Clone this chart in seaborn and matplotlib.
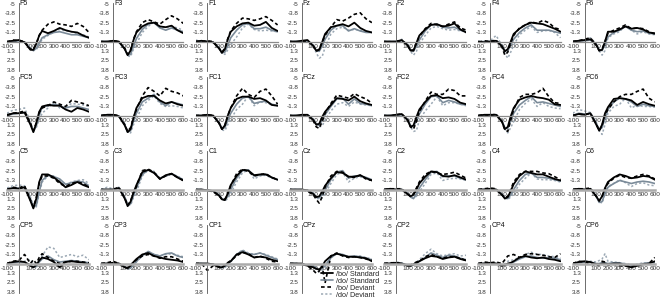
import matplotlib
matplotlib.use('Agg')
import matplotlib.pyplot as plt
from matplotlib.lines import Line2D
import seaborn as sns
import pandas as pd

# ── time axis (ms) and electrode grid ─────────────────────────────────────────
TIMES = [-100, -50, 0, 50, 100, 125, 150, 175, 200, 250, 300, 350, 400, 450, 500, 550, 600]

GRID = [
    ['F5', 'F3', 'F1', 'Fz', 'F2', 'F4', 'F6'],
    ['FC5', 'FC3', 'FC1', 'FCz', 'FC2', 'FC4', 'FC6'],
    ['C5', 'C3', 'C1', 'Cz', 'C2', 'C4', 'C6'],
    ['CP5', 'CP3', 'CP1', 'CPz', 'CP2', 'CP4', 'CP6'],
]

# ── amplitudes (uV) ──────────────────────────────────────────────────────────
BO_STD = {
    'F5':  [0.0, -0.1, -0.2, 0.1, 1.1, 1.1, 0.3, -0.8, -1.4, -1.1, -1.4, -1.8, -1.5, -1.3, -1.2, -0.8, -0.5],
    'F3':  [0.0, 0.0, -0.1, 0.0, 1.0, 1.8, 1.2, -0.2, -1.2, -2.0, -2.4, -2.5, -2.0, -1.9, -2.1, -1.5, -1.1],
    'F1':  [0.0, -0.1, 0.0, 0.1, 0.9, 1.5, 1.0, -0.3, -1.3, -2.0, -2.4, -2.5, -2.1, -2.2, -2.6, -1.8, -1.4],
    'Fz':  [0.0, 0.0, -0.1, -0.2, 0.6, 1.2, 1.1, 0.1, -1.0, -1.9, -2.1, -2.3, -2.0, -2.5, -1.8, -1.4, -1.2],
    'F2':  [0.0, 0.0, 0.0, -0.2, 0.5, 1.2, 1.2, 0.2, -0.8, -1.6, -2.2, -2.3, -2.0, -2.1, -2.4, -1.6, -1.2],
    'F4':  [0.0, 0.1, 0.0, -0.1, 0.6, 1.3, 1.0, 0.0, -1.0, -1.7, -2.2, -2.5, -2.4, -2.3, -2.0, -1.7, -1.3],
    'F6':  [0.0, -0.1, -0.2, -0.3, 0.4, 1.2, 1.1, 0.0, -1.3, -1.3, -1.6, -2.0, -1.7, -1.8, -1.6, -1.2, -1.1],
    'FC5': [0.0, -0.3, -0.3, -0.4, 1.2, 2.2, 1.0, -0.5, -1.2, -1.4, -1.3, -1.3, -0.8, -0.5, -1.0, -0.8, -0.5],
    'FC3': [0.0, -0.1, -0.1, 0.1, 1.3, 2.2, 1.8, 0.3, -1.0, -2.3, -2.6, -2.6, -2.0, -1.6, -1.8, -1.5, -1.3],
    'FC1': [0.0, 0.0, -0.1, 0.0, 1.0, 1.8, 1.3, 0.0, -1.0, -2.2, -2.5, -2.5, -2.2, -2.3, -2.0, -1.4, -1.3],
    'FCz': [0.0, 0.0, -0.1, -0.1, 0.6, 1.2, 1.1, 0.2, -0.5, -1.4, -2.3, -2.2, -2.0, -2.5, -1.9, -1.6, -1.4],
    'FC2': [0.0, 0.0, -0.1, -0.2, 0.6, 1.5, 1.3, 0.2, -0.8, -1.8, -2.6, -2.7, -2.3, -2.4, -2.2, -1.7, -1.5],
    'FC4': [0.0, -0.1, -0.1, -0.1, 0.8, 1.8, 1.5, 0.1, -1.0, -2.1, -2.4, -2.6, -2.4, -2.3, -2.1, -1.5, -1.4],
    'FC6': [0.0, -0.2, -0.1, -0.3, 1.2, 2.0, 1.2, -0.3, -1.1, -2.2, -2.3, -2.2, -2.0, -1.4, -1.8, -1.5, -1.3],
    'C5':  [0.0, -0.2, -0.1, -0.3, 1.5, 2.5, 1.2, -1.0, -2.0, -2.0, -1.6, -1.0, -0.3, -0.6, -1.0, -0.6, -0.3],
    'C3':  [0.0, 0.0, 0.0, -0.2, 1.2, 2.2, 1.6, 0.4, -0.6, -2.3, -2.6, -2.2, -1.4, -1.9, -2.1, -1.6, -1.2],
    'C1':  [0.0, 0.0, 0.1, 0.2, 0.8, 1.3, 1.4, 0.5, -0.6, -1.8, -2.6, -2.5, -1.9, -2.0, -2.0, -1.6, -1.3],
    'Cz':  [0.0, 0.0, 0.0, 0.1, 0.6, 1.0, 0.9, 0.3, -0.5, -1.5, -2.3, -2.2, -1.7, -1.7, -1.9, -1.5, -1.2],
    'C2':  [0.0, -0.1, 0.0, 0.0, 0.6, 0.9, 0.7, 0.0, -0.8, -1.7, -2.4, -2.3, -1.8, -1.7, -1.9, -1.6, -1.3],
    'C4':  [0.0, 0.0, -0.1, 0.0, 0.7, 1.2, 1.0, 0.2, -0.7, -1.8, -2.4, -2.2, -2.0, -2.0, -1.7, -1.4, -1.2],
    'C6':  [0.0, -0.1, 0.0, -0.1, 0.9, 1.5, 0.9, -0.2, -1.0, -1.6, -2.0, -1.8, -1.5, -1.6, -1.8, -1.7, -1.3],
    'CP5': [0.0, -0.2, -0.3, -0.2, 0.3, 0.5, 0.2, -0.4, -0.8, -0.6, -0.2, 0.5, -0.2, -0.3, -0.2, -0.1, 0.1],
    'CP3': [0.0, 0.0, -0.1, 0.0, 0.5, 0.6, 0.3, -0.2, -0.6, -1.2, -1.4, -1.0, -0.8, -0.6, -0.5, -0.4, -0.2],
    'CP1': [0.0, 0.0, 0.0, 0.1, 0.5, 0.5, 0.3, -0.1, -0.3, -1.2, -1.5, -1.2, -0.8, -0.9, -0.8, -0.5, -0.3],
    'CPz': [0.0, 0.0, 0.0, 0.3, 0.5, 0.7, 0.8, 0.4, -0.3, -1.0, -1.3, -1.1, -0.9, -0.9, -0.8, -0.7, -0.3],
    'CP2': [0.0, 0.0, -0.1, 0.0, 0.3, 0.3, 0.1, -0.1, -0.3, -0.7, -1.0, -0.9, -0.6, -0.8, -0.9, -0.6, -0.4],
    'CP4': [0.0, 0.0, -0.1, 0.0, 0.3, 0.2, 0.0, -0.1, -0.3, -0.8, -1.0, -0.8, -0.7, -0.8, -0.6, -0.5, -0.3],
    'CP6': [0.0, -0.2, -0.3, -0.2, 0.1, 0.1, 0.0, 0.0, 0.1, 0.0, 0.0, 0.3, 0.5, 0.3, 0.1, 0.0, -0.3],
}

DO_STD = {
    'F5':  [0.0, 0.0, -0.1, 0.1, 0.9, 1.2, 0.9, 0.2, -0.5, -0.9, -1.2, -1.3, -1.1, -0.9, -0.9, -0.7, -0.5],
    'F3':  [0.0, 0.0, 0.0, 0.1, 0.9, 1.8, 1.7, 0.6, -0.4, -1.6, -2.3, -2.5, -1.8, -1.5, -1.8, -1.5, -1.3],
    'F1':  [-0.1, 0.0, 0.0, 0.1, 0.8, 1.5, 1.4, 0.5, -0.5, -1.5, -2.2, -2.4, -1.7, -1.7, -1.9, -1.5, -1.3],
    'Fz':  [0.0, 0.0, 0.0, -0.1, 0.5, 1.2, 1.3, 0.6, -0.3, -1.5, -2.1, -2.1, -1.4, -1.7, -1.4, -1.2, -1.2],
    'F2':  [0.0, 0.0, 0.0, -0.1, 0.4, 1.1, 1.3, 0.6, -0.2, -1.4, -2.2, -2.3, -1.9, -1.8, -1.9, -1.5, -1.3],
    'F4':  [0.0, 0.0, 0.0, -0.1, 0.5, 1.2, 1.2, 0.5, -0.3, -1.2, -1.8, -2.2, -1.5, -1.5, -1.5, -1.3, -1.1],
    'F6':  [0.0, -0.1, -0.1, -0.2, 0.4, 1.1, 1.2, 0.3, -0.6, -1.2, -1.5, -2.0, -1.5, -1.3, -1.4, -1.1, -1.0],
    'FC5': [0.0, -0.2, -0.3, -0.4, 1.1, 2.1, 1.4, 0.0, -1.1, -1.3, -1.5, -1.3, -1.0, -1.2, -1.2, -1.0, -0.8],
    'FC3': [0.0, -0.1, 0.0, 0.1, 1.2, 2.2, 2.0, 0.7, -0.3, -1.8, -2.3, -2.8, -1.8, -1.3, -1.8, -1.6, -1.4],
    'FC1': [0.0, 0.0, 0.0, 0.1, 0.9, 1.7, 1.6, 0.6, -0.3, -1.5, -2.3, -2.5, -1.6, -1.8, -1.9, -1.5, -1.3],
    'FCz': [0.0, 0.0, 0.0, -0.1, 0.5, 1.1, 1.3, 0.6, -0.1, -1.2, -2.2, -2.3, -1.5, -2.2, -1.6, -1.5, -1.3],
    'FC2': [0.0, 0.0, 0.0, -0.1, 0.5, 1.3, 1.5, 0.7, -0.2, -1.5, -2.5, -2.6, -1.7, -2.0, -1.8, -1.5, -1.4],
    'FC4': [0.0, 0.0, -0.1, -0.1, 0.7, 1.6, 1.7, 0.7, -0.3, -1.4, -2.0, -2.5, -1.7, -1.8, -1.6, -1.4, -1.2],
    'FC6': [0.0, -0.3, -0.2, -0.3, 1.0, 1.9, 1.6, 0.3, -0.8, -1.8, -2.3, -2.2, -1.8, -1.2, -1.5, -1.3, -1.2],
    'C5':  [0.0, -0.2, -0.2, -0.3, 1.2, 2.3, 2.1, 0.3, -1.2, -1.9, -1.7, -1.4, -0.7, -0.9, -1.1, -1.0, -0.5],
    'C3':  [0.0, 0.0, 0.0, -0.2, 1.0, 2.0, 1.9, 0.8, -0.2, -2.0, -2.6, -2.2, -1.5, -1.8, -2.1, -1.7, -1.3],
    'C1':  [0.0, 0.0, 0.1, 0.2, 0.7, 1.2, 1.4, 0.9, 0.0, -1.5, -2.5, -2.6, -1.8, -1.9, -2.0, -1.6, -1.3],
    'Cz':  [0.0, 0.0, 0.0, 0.1, 0.5, 1.0, 1.1, 0.7, 0.1, -1.3, -2.3, -2.5, -1.5, -1.8, -1.8, -1.6, -1.3],
    'C2':  [0.0, 0.0, 0.0, 0.0, 0.5, 1.0, 1.2, 0.6, -0.2, -1.3, -2.3, -2.4, -1.7, -1.8, -1.8, -1.5, -1.3],
    'C4':  [0.0, 0.0, 0.0, 0.0, 0.6, 1.1, 1.2, 0.7, 0.0, -1.2, -2.0, -2.2, -1.6, -1.6, -1.5, -1.3, -1.1],
    'C6':  [0.0, 0.0, 0.0, -0.1, 0.9, 1.7, 1.6, 0.5, -0.3, -0.8, -1.2, -1.0, -0.8, -1.0, -1.1, -1.0, -0.8],
    'CP5': [0.0, -0.1, -0.2, -0.2, 0.2, 0.5, 0.4, -0.2, -0.6, -1.0, -0.5, -0.2, -0.3, -0.4, -0.3, -0.2, -0.1],
    'CP3': [0.0, 0.0, 0.0, 0.0, 0.4, 0.7, 0.6, 0.2, -0.3, -1.0, -1.6, -1.2, -1.0, -1.3, -1.4, -1.0, -0.8],
    'CP1': [0.0, 0.0, 0.0, 0.1, 0.4, 0.5, 0.4, 0.1, -0.3, -1.2, -1.7, -1.3, -1.2, -1.4, -1.1, -0.8, -0.5],
    'CPz': [0.0, 0.0, 0.1, 0.2, 0.3, 0.6, 0.8, 0.6, 0.3, -0.8, -1.3, -1.2, -0.9, -1.0, -0.9, -0.7, -0.5],
    'CP2': [0.0, 0.0, 0.0, 0.0, 0.2, 0.3, 0.2, 0.0, -0.3, -0.8, -1.4, -1.1, -0.8, -1.1, -1.0, -0.7, -0.5],
    'CP4': [0.0, 0.0, 0.0, 0.0, 0.2, 0.2, 0.1, 0.0, -0.2, -0.6, -0.9, -1.0, -0.8, -0.7, -0.8, -0.7, -0.5],
    'CP6': [0.0, -0.1, -0.2, -0.2, 0.0, 0.0, -0.1, -0.1, 0.0, -0.1, -0.1, 0.1, 0.3, 0.2, 0.0, -0.1, -0.2],
}

BO_DEV = {
    'F5':  [0.1, -0.2, -0.1, 0.0, 1.0, 1.0, 0.3, -0.8, -1.5, -2.3, -2.6, -2.3, -2.2, -2.0, -2.4, -2.0, -1.2],
    'F3':  [0.0, 0.1, -0.1, 0.0, 0.9, 1.7, 1.1, -0.3, -1.3, -2.5, -2.9, -2.6, -2.3, -2.9, -3.4, -3.0, -2.4],
    'F1':  [0.0, 0.0, -0.1, 0.0, 0.9, 1.4, 0.9, -0.4, -1.4, -2.4, -3.1, -3.0, -2.8, -3.0, -3.3, -2.8, -2.2],
    'Fz':  [0.0, 0.1, 0.0, -0.1, 0.6, 1.3, 1.0, 0.1, -0.8, -1.9, -2.9, -2.7, -3.1, -3.6, -3.8, -3.0, -2.5],
    'F2':  [0.0, 0.1, 0.0, -0.1, 0.5, 1.2, 1.1, 0.2, -0.7, -1.7, -2.4, -2.2, -2.0, -2.3, -2.6, -1.8, -1.5],
    'F4':  [0.1, -0.1, 0.0, -0.2, 0.7, 1.8, 1.4, 0.2, -0.8, -1.8, -2.2, -2.6, -2.4, -2.8, -2.5, -1.8, -1.6],
    'F6':  [0.0, -0.1, -0.3, -0.5, 0.5, 1.2, 1.0, 0.0, -1.1, -1.5, -1.8, -2.2, -1.7, -1.8, -1.7, -1.3, -1.0],
    'FC5': [-0.1, -0.3, -0.4, -0.6, 1.0, 2.0, 1.0, -0.4, -1.0, -1.3, -1.8, -1.5, -1.2, -2.0, -1.8, -1.6, -1.3],
    'FC3': [0.0, -0.1, -0.1, 0.0, 1.2, 2.1, 1.6, 0.3, -0.8, -2.6, -3.7, -3.2, -2.6, -3.6, -3.2, -3.0, -2.6],
    'FC1': [0.0, 0.0, -0.1, 0.0, 1.0, 1.8, 1.3, 0.0, -1.0, -2.6, -3.6, -2.8, -2.4, -3.2, -3.5, -2.6, -1.5],
    'FCz': [0.0, 0.1, 0.0, -0.1, 0.7, 1.5, 1.7, 0.8, -0.3, -1.6, -2.7, -2.5, -2.3, -2.9, -2.5, -2.2, -1.6],
    'FC2': [0.0, 0.1, -0.1, -0.2, 0.6, 1.5, 1.8, 0.8, -0.5, -1.9, -3.1, -2.8, -2.8, -3.5, -3.3, -2.6, -2.6],
    'FC4': [0.0, -0.1, 0.0, -0.2, 0.8, 1.9, 2.1, 0.6, -0.8, -2.4, -2.8, -2.8, -3.0, -3.6, -2.5, -1.7, -1.6],
    'FC6': [0.0, -0.2, -0.1, -0.3, 1.1, 2.0, 1.3, -0.1, -0.8, -1.8, -2.5, -2.8, -2.8, -3.2, -3.5, -2.3, -1.8],
    'C5':  [0.0, -0.3, -0.2, -0.5, 1.4, 2.3, 1.1, -0.8, -1.8, -1.8, -1.5, -0.8, -0.4, -0.8, -1.0, -0.8, -0.3],
    'C3':  [0.0, 0.1, 0.0, -0.3, 1.1, 2.1, 1.5, 0.4, -0.4, -2.5, -2.7, -2.3, -1.4, -1.8, -2.1, -1.6, -1.2],
    'C1':  [0.0, 0.1, 0.1, 0.3, 0.8, 1.3, 1.3, 0.5, -0.5, -2.1, -2.7, -2.4, -1.8, -2.0, -2.1, -1.6, -1.3],
    'Cz':  [0.0, 0.1, 0.0, 0.2, 0.7, 1.3, 1.8, 1.0, -0.3, -1.8, -2.4, -2.3, -1.7, -1.6, -1.9, -1.4, -1.2],
    'C2':  [0.0, -0.1, -0.1, -0.1, 0.6, 0.9, 0.6, -0.2, -1.0, -2.0, -2.4, -2.2, -2.0, -2.1, -2.3, -1.9, -1.5],
    'C4':  [0.0, -0.1, -0.2, -0.1, 0.7, 1.1, 0.9, 0.0, -1.0, -2.0, -2.4, -2.4, -2.4, -2.2, -2.1, -1.7, -1.3],
    'C6':  [0.0, -0.1, -0.1, -0.2, 0.9, 1.5, 0.9, -0.1, -0.8, -1.5, -1.9, -1.6, -1.5, -1.8, -2.0, -1.8, -1.4],
    'CP5': [0.0, -0.3, -0.4, -1.2, 0.0, -0.5, 0.0, -0.8, -1.3, -0.8, -0.3, 0.0, -0.2, -0.3, -0.3, -0.2, -0.1],
    'CP3': [0.0, -0.1, -0.3, 0.0, 0.5, 0.6, 0.2, -0.2, -0.5, -1.0, -1.2, -1.0, -0.7, -0.9, -0.9, -0.6, -0.3],
    'CP1': [0.0, 0.0, 0.9, 0.3, 0.4, 0.5, 0.2, -0.1, -0.4, -1.0, -1.5, -1.3, -0.8, -1.0, -0.7, -0.3, -0.2],
    'CPz': [0.0, 0.0, 0.1, 0.3, 0.9, 1.3, 1.0, 0.3, 2.6, -1.0, -1.4, -1.0, -0.8, -0.9, -0.8, -0.6, -0.4],
    'CP2': [0.0, -0.1, -0.1, 0.0, 0.3, 0.2, 0.0, -0.2, -0.3, -0.9, -1.2, -0.9, -0.7, -0.9, -0.9, -0.7, -0.4],
    'CP4': [0.0, -0.2, -0.1, -0.2, 0.0, -0.5, -1.0, -1.1, -1.2, -0.8, -1.2, -1.3, -1.2, -1.1, -0.9, -0.8, -1.3],
    'CP6': [0.0, -0.3, -0.2, 0.0, 0.3, 0.2, -0.3, -0.2, 0.2, 0.1, 0.3, 0.3, 0.4, 0.2, 0.1, 0.0, -0.8],
}

DO_DEV = {
    'F5':  [0.2, 0.0, -0.2, 0.1, 0.8, 1.2, 1.1, 0.4, -0.3, -0.8, -1.3, -1.6, -1.4, -1.3, -1.0, -0.9, -0.6],
    'F3':  [0.0, 0.0, 0.0, 0.1, 1.0, 1.9, 2.0, 1.0, 0.3, -1.2, -2.0, -2.6, -2.0, -1.8, -2.0, -1.8, -1.5],
    'F1':  [-0.2, 0.0, 0.1, 0.1, 0.9, 1.6, 1.7, 1.1, 0.4, -0.6, -1.8, -2.3, -1.6, -1.4, -1.5, -1.4, -1.3],
    'Fz':  [0.0, 0.0, 0.1, 0.0, 0.6, 1.5, 2.2, 2.0, 0.8, -1.0, -1.7, -1.9, -1.5, -1.6, -1.5, -1.3, -1.3],
    'F2':  [0.0, 0.0, 0.1, -0.3, 0.5, 1.3, 1.8, 1.3, 0.3, -0.8, -1.8, -2.0, -1.7, -1.5, -1.6, -1.4, -1.3],
    'F4':  [0.0, 0.1, -0.1, -0.8, 0.5, 1.6, 2.2, 1.4, 0.5, -0.9, -1.5, -2.0, -1.2, -1.4, -1.5, -1.2, -0.5],
    'F6':  [0.0, 0.0, -0.2, -0.5, 0.3, 1.2, 1.8, 1.2, -0.5, -1.0, -1.3, -2.2, -1.5, -1.0, -1.3, -1.0, -0.9],
    'FC5': [-0.3, -0.7, -0.8, -1.0, 0.8, 2.0, 1.6, 0.5, -0.3, -1.0, -1.8, -1.0, -1.0, -1.6, -1.5, -1.4, -1.2],
    'FC3': [0.0, 0.0, -0.1, 0.1, 1.1, 2.2, 2.3, 1.2, 0.5, -1.3, -2.0, -2.6, -1.6, -1.2, -1.3, -1.2, -1.0],
    'FC1': [0.0, 0.1, 0.0, 0.1, 1.0, 1.9, 2.0, 1.2, 0.5, -0.8, -1.5, -2.6, -1.3, -1.8, -1.7, -1.4, -1.3],
    'FCz': [0.0, 0.0, 0.1, 0.0, 0.6, 1.2, 1.5, 1.4, 0.6, -0.6, -1.5, -1.7, -1.2, -1.8, -1.5, -1.4, -1.3],
    'FC2': [0.0, 0.0, 0.1, -0.1, 0.6, 1.5, 2.1, 2.0, 0.6, -0.6, -1.5, -2.5, -1.3, -1.7, -1.7, -1.5, -1.3],
    'FC4': [0.0, 0.0, -0.1, -0.1, 0.7, 1.8, 2.3, 1.6, 0.8, -0.8, -1.6, -2.2, -1.2, -1.7, -1.2, -1.0, -0.9],
    'FC6': [-0.3, -0.8, -0.6, -0.4, 0.9, 2.0, 2.5, 1.2, -0.3, -1.2, -1.5, -2.3, -1.0, -1.4, -1.2, -1.2, -1.1],
    'C5':  [-0.2, -0.5, -0.6, -0.5, 1.0, 2.2, 2.3, 0.6, -1.0, -1.8, -1.8, -1.2, -0.6, -1.0, -1.2, -1.3, -0.8],
    'C3':  [0.0, -0.3, -0.1, -0.3, 1.0, 2.0, 2.1, 1.0, 0.3, -1.8, -2.6, -2.4, -1.5, -1.8, -2.0, -1.8, -1.3],
    'C1':  [0.0, 0.0, 0.2, 0.2, 0.7, 1.2, 1.5, 1.2, 0.5, -1.0, -2.2, -2.6, -1.4, -1.8, -1.9, -1.5, -1.3],
    'Cz':  [0.0, 0.0, 0.1, 0.1, 0.6, 1.1, 1.3, 1.1, 0.5, -0.8, -2.0, -2.3, -1.0, -1.5, -1.7, -1.4, -1.2],
    'C2':  [0.0, 0.0, 0.0, 0.0, 0.5, 0.9, 1.1, 0.9, 0.3, -0.8, -2.0, -2.2, -1.2, -1.4, -1.5, -1.4, -1.2],
    'C4':  [0.0, 0.0, -0.1, 0.0, 0.6, 1.1, 1.3, 1.0, 0.5, -0.7, -1.5, -2.2, -1.4, -1.3, -1.3, -1.2, -1.0],
    'C6':  [0.0, 0.0, 0.0, -0.1, 0.8, 1.6, 1.8, 0.6, -0.4, -0.8, -1.3, -0.9, -0.4, -0.8, -0.9, -0.6, -0.5],
    'CP5': [0.1, -0.2, -0.3, -0.3, -0.5, 0.0, 0.3, -0.4, -1.0, -2.2, -2.0, -0.8, -1.0, -1.2, -0.9, -1.1, -0.5],
    'CP3': [0.0, 0.0, -0.1, 0.0, 0.4, 0.7, 0.6, 0.2, -0.2, -1.1, -1.6, -1.2, -1.0, -1.2, -1.3, -1.1, -0.9],
    'CP1': [0.0, 0.0, 0.1, 0.1, 0.4, 0.6, 0.5, 0.2, -0.2, -1.2, -1.8, -1.4, -1.2, -1.4, -1.2, -0.9, -0.6],
    'CPz': [0.0, 0.0, 0.1, 0.2, 0.4, 0.8, 1.1, 0.9, 0.6, -0.7, -1.4, -1.1, -0.8, -0.9, -1.0, -0.8, -0.6],
    'CP2': [0.0, 0.0, -0.2, -0.1, 0.2, 0.2, 0.1, -0.2, -0.5, -1.3, -1.9, -1.3, -1.0, -1.2, -1.3, -1.0, -1.1],
    'CP4': [0.0, 0.0, -0.1, 0.0, 0.2, 0.0, -0.3, -0.4, -0.5, -0.8, -1.2, -1.5, -1.2, -1.2, -1.0, -0.9, -0.7],
    'CP6': [0.0, -0.2, -0.3, -0.3, -0.2, -0.4, -0.6, -1.3, -0.3, -0.2, -0.1, 0.0, 0.2, 0.1, -0.1, -0.1, -0.1],
}

CONDITIONS = ['/do/ Deviant', '/do/ Standard', '/bo/ Deviant', '/bo/ Standard']   # drawing order
SERIES = {'/bo/ Standard': BO_STD, '/do/ Standard': DO_STD,
          '/bo/ Deviant': BO_DEV, '/do/ Deviant': DO_DEV}
LEGEND_ORDER = ['/bo/ Standard', '/do/ Standard', '/bo/ Deviant', '/do/ Deviant']

Y_TICKS = [-5, -3.75, -2.5, -1.25, 1.25, 2.5, 3.75]
Y_TICKLABELS = ['-5', '-3.8', '-2.5', '-1.3', '1.3', '2.5', '3.8']
X_TICKS = [-100, 100, 200, 300, 400, 500, 600]
X_TICKLABELS = ['-100', '100', '200', '300', '400', '500', '600']

# ── styling ───────────────────────────────────────────────────────────────────
palette = {'/bo/ Standard': '#000000', '/do/ Standard': '#7b8b99',
           '/bo/ Deviant': '#000000', '/do/ Deviant': '#9ba8b4'}
dashes = {'/bo/ Standard': '', '/do/ Standard': '',
          '/bo/ Deviant': (2.2, 1.6), '/do/ Deviant': (1.4, 1.4)}
widths = {'/bo/ Standard': 1.3, '/do/ Standard': 1.2,
          '/bo/ Deviant': 1.2, '/do/ Deviant': 1.1}

sns.set_style('white')
plt.rcParams['font.family'] = ['Liberation Sans', 'DejaVu Sans']

W, H = 669, 301
fig = plt.figure(figsize=(W / 100, H / 100), dpi=100)

for r, row in enumerate(GRID):
    for c, name in enumerate(row):
        left = 7 + 94.3 * c
        top = 3 + 74 * r
        ax = fig.add_axes([left / W, 1 - (top + 68) / H, 82 / W, 68 / H])

        long = pd.concat([
            pd.DataFrame({'t': TIMES, 'v': SERIES[cond][name], 'cond': cond})
            for cond in CONDITIONS
        ])
        sns.lineplot(data=long, x='t', y='v', hue='cond', style='cond', size='cond',
                     hue_order=CONDITIONS, palette=palette, dashes=dashes,
                     sizes=widths, legend=False, ax=ax)

        ax.set_xlim(-100, 600)
        ax.set_ylim(3.9, -5.1)
        ax.set_xlabel('')
        ax.set_ylabel('')
        for s in ['top', 'right']:
            ax.spines[s].set_visible(False)
        ax.spines['left'].set_position(('data', 0))
        ax.spines['bottom'].set_position(('data', 0))
        ax.spines['left'].set_color('#555555')
        ax.spines['left'].set_linewidth(0.6)
        if r >= 2:
            ax.spines['bottom'].set_color('#ababab')
            ax.spines['bottom'].set_linewidth(1.8)
        else:
            ax.spines['bottom'].set_color('#8a8a8a')
            ax.spines['bottom'].set_linewidth(0.9)

        ax.set_yticks(Y_TICKS)
        ax.set_yticklabels(Y_TICKLABELS)
        ax.set_xticks(X_TICKS)
        ax.set_xticklabels(X_TICKLABELS)
        ax.tick_params(axis='both', labelsize=4.6, colors='#333333',
                       length=1.5, width=0.5, pad=1)
        ax.tick_params(axis='x', length=0, pad=1.5)

        ax.text(8, -5.0, name, fontsize=5, ha='left', va='center', color='#111111')

# ── legend ────────────────────────────────────────────────────────────────────
handles = [Line2D([], [], color=palette[k], lw=widths[k],
                  dashes=dashes[k] if dashes[k] else (None, None)) for k in LEGEND_ORDER]
fig.legend(handles, LEGEND_ORDER, loc='upper left',
           bbox_to_anchor=(321 / W, 1 - 270.5 / H), frameon=False,
           fontsize=5.2, handlelength=1.7, handletextpad=0.35,
           labelspacing=0.0, borderaxespad=0, borderpad=0)

plt.savefig('out.png', dpi=100)
plt.close()
